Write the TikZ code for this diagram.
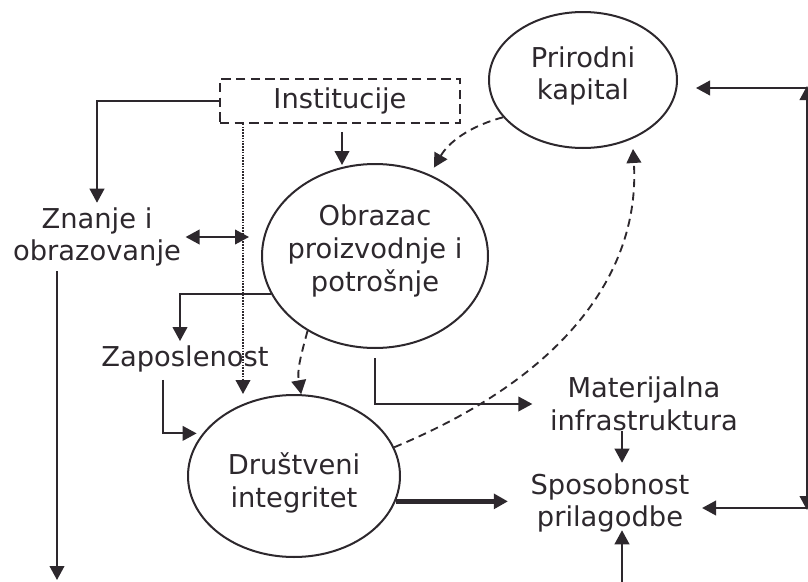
\documentclass[tikz,border=0pt]{standalone}
\usepackage{fontspec}
\setmainfont{DejaVu Sans}
\usepackage{xcolor}
\usetikzlibrary{arrows.meta,calc,positioning,shapes.geometric}
\definecolor{ink}{RGB}{45,40,45}
\tikzset{%
	txt/.style       = {text=ink, font=\fontsize{20.5}{24.5}\selectfont, align=center},
	blob/.style      = {draw=ink, ellipse, line width=1.5pt, inner sep=0pt},
	dashbox/.style   = {draw=ink, rectangle, dash pattern=on 7pt off 4pt, line width=1.3pt, minimum width=180pt, minimum height=33pt, txt},
	arrow/.style     = {draw=ink, line width=1.4pt, -{Triangle[length=10.5pt,width=11pt]}},
	biarrow/.style   = {arrow, {Triangle[length=10.5pt,width=11pt]}-{Triangle[length=10.5pt,width=11pt]}},
	dasharrow/.style = {arrow, dash pattern=on 6pt off 4pt},
	dotarrow/.style  = {arrow, line width=1.3pt, dash pattern=on 1.2pt off 0.9pt},
	fatarrow/.style  = {arrow, line width=3.5pt},
}
\begin{document}
\begin{tikzpicture}[x=0.75pt,y=-0.75pt]
		\useasboundingbox (0,0) rectangle (808,582);
		\node[blob, minimum width=141pt, minimum height=102pt] (prir) at (583,80) {};
		\node[txt] (prirtxt) at (583,76) {Prirodni\\kapital};
		\node[blob, minimum width=169.5pt, minimum height=138pt] (obr) at (375,256) {};
		\node[txt] (obrtxt) at (375,251) {Obrazac\\proizvodnje i\\potrošnje};
		\node[blob, minimum width=159pt, minimum height=121.5pt] (dru) at (294,476) {};
		\node[txt] (drutxt) at (294,483) {Društveni\\integritet};
		\node[dashbox] (inst) at (340,101) {Institucije};
		\node[txt] (zn) at (97,237) {Znanje i\\obrazovanje};
		\node[txt] (zap) at (185,359) {Zaposlenost};
		\node[txt] (mat) at (644,404) {Materijalna\\infrastruktura};
		\node[txt] (spo) at (610,503) {Sposobnost\\prilagodbe};
		\coordinate (ne) at (807,88);
		\coordinate (se) at (807,508);
		\coordinate (sw) at (57,580);
		\coordinate (sm) at (622,582);
		\coordinate (dotx) at (243,0);
		
		\draw[arrow] (inst.west) -| (zn.north);
		\draw[dotarrow] (inst.south -| dotx) -- (dotx |- dru.north);
		\draw[arrow] ($(inst.south)+(2,8)$) -- ($(obr.north)+(-33,2)$);
		\draw[biarrow] (zn.east) -- ($(zn.east -| obr.west)+(-12,0)$);
		\draw[dasharrow, shorten >=6pt] (prir.205) to[out=195,in=60] (obr.56);
		\draw[arrow] (obr.200) -| ($(zap.north)+(-5,0)$);
		\draw[dasharrow] (obr.228) to[out=255,in=100] (dru.85);
		\draw[arrow] ($(zap.south)+(-22,3)$) |- ($(dru.155)+(-6,0)$);
		\draw[arrow] ($(obr.south)+(0,9)$) |- ($(mat.west)+(-13,0)$);
		\draw[arrow] ($(mat.south -| sm)+(0,-5)$) -- ($(spo.north -| sm)+(0,-6)$);
		\draw[arrow] (sm) -- ($(spo.south -| sm)+(0,-7)$);
		\draw[fatarrow] (dru.-14) -- ($(dru.-14 -| spo.west)+(-18,0)$);
		\draw[dasharrow] (dru.16) .. controls (580,370) and (640,260) .. ($(prir.south)+(50,0)$);
		\draw[biarrow] ($(ne)+(0,-2)$) -- ($(se)+(0,2)$);
		\draw[arrow] (ne) -- ($(ne -| prir.east)+(18,0)$);
		\draw[arrow] (se) -- ($(se -| spo.east)+(8,0)$);
		\draw[arrow] (zn.south -| sw) -- (sw);
\end{tikzpicture}
\end{document}
